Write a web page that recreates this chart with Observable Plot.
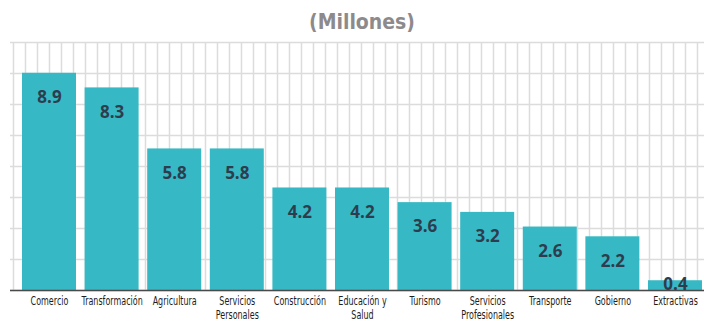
<!DOCTYPE html>
<html><head><meta charset="utf-8">
<script src="https://cdn.jsdelivr.net/npm/d3@7"></script>
<script src="https://cdn.jsdelivr.net/npm/@observablehq/plot@0.6"></script>
<style>
body{margin:0;background:#fff;width:704px;height:324px;overflow:hidden;}
#title{height:40px;line-height:45px;text-align:center;padding-left:20px;box-sizing:border-box;font-family:"DejaVu Sans Condensed","DejaVu Sans",sans-serif;font-stretch:condensed;font-weight:bold;font-size:21px;color:#8d8a8c;}
</style></head>
<body>
<div id="title">(Millones)</div>
<div id="chart"></div>
<script>
const categories = ["Comercio","Transformación","Agricultura","Servicios\nPersonales","Construcción","Educación y\nSalud","Turismo","Servicios\nProfesionales","Transporte","Gobierno","Extractivas"];
const values = [8.9, 8.3, 5.8, 5.8, 4.2, 4.2, 3.6, 3.2, 2.6, 2.2, 0.4];

const data = categories.map((c, i) => ({i, category: c, value: values[i]}));
const bw = 0.8626;            // bar width as share of category step
const yMax = 10.16;           // top of plotting area
const gridStep = 0.1917;      // vertical background grid step
const yTicks = d3.range(0, 9).map(k => k * yMax / 8);
const xGrid = d3.range(-0.1438, 10.9, gridStep);

const chart = Plot.plot({
  width: 704,
  height: 284,
  marginTop: 2,
  marginBottom: 34,
  marginLeft: 10,
  marginRight: 0,
  x: {domain: [-0.1917, 10.895], axis: null},
  y: {domain: [0, yMax], axis: null},
  marks: [
    Plot.ruleX(xGrid, {y1: 0, y2: yMax, stroke: "#dcdcdc", strokeWidth: 1.5}),
    Plot.ruleY(yTicks, {stroke: "#dcdcdc", strokeWidth: 1.5}),
    Plot.rectY(data, {x1: d => d.i, x2: d => d.i + bw, y1: 0, y2: "value", fill: "#36b9c4"}),
    Plot.ruleY([0], {stroke: "#4a4a4a", strokeWidth: 1.5}),
    Plot.text(data, {
      x: d => d.i + bw / 2, y: d => Math.max(d.value - 1, 0.25),
      text: d => d.value.toFixed(1),
      fill: "#2e3d4e", fontSize: 17, fontWeight: "bold",
      fontFamily: "'Open Sans', sans-serif", style: "letter-spacing:1px"
    }),
    Plot.text(data, {
      x: d => d.i + bw / 2, y: 0, text: "category",
      lineAnchor: "top", dy: 5, lineHeight: 1.1,
      fill: "#1d1d1d", fontSize: 12.5,
      fontFamily: "'DejaVu Sans', sans-serif"
    })
  ]
});
// condense the category labels horizontally
const textGroups = chart.querySelectorAll('g[aria-label="text"]');
const catGroup = textGroups[textGroups.length - 1];
catGroup.querySelectorAll("text").forEach(t => {
  const tr = t.getAttribute("transform") || "";
  t.setAttribute("transform", tr + " scale(0.64,1)");
});
document.getElementById("chart").append(chart);
</script>
</body></html>
